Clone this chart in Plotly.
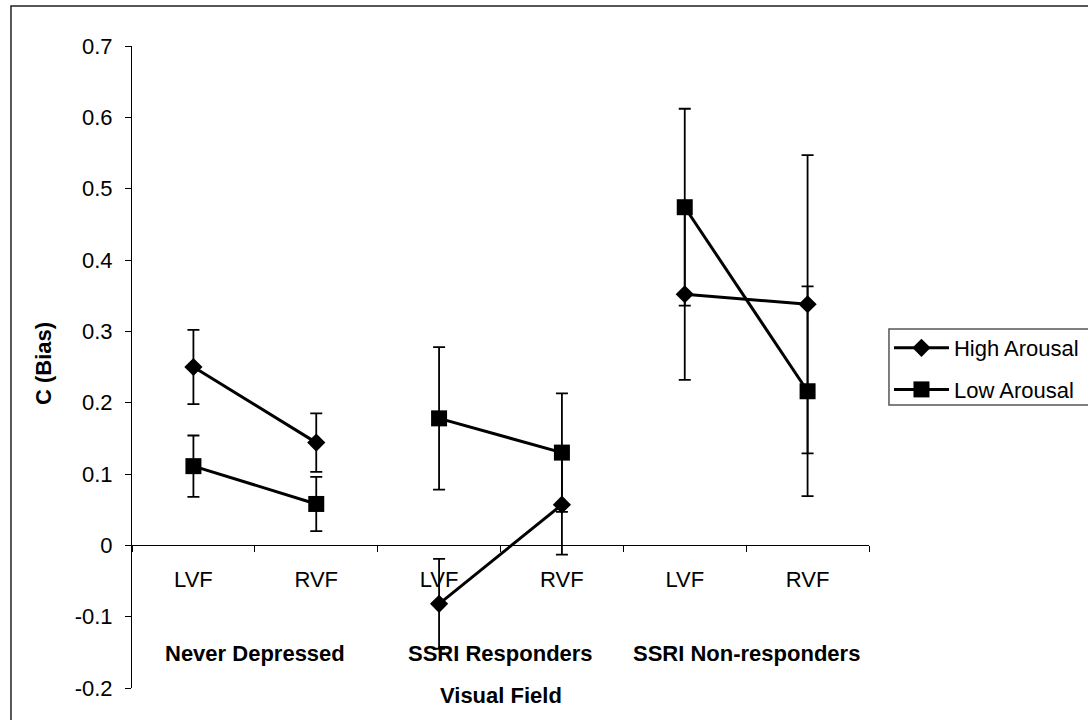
import plotly.graph_objects as go

# Signal-detection response bias (C) by patient group, visual field and arousal
groups = ["Never Depressed", "SSRI Responders", "SSRI Non-responders"]
fields = ["LVF", "RVF"]

high_arousal = [0.250, 0.144, -0.082, 0.057, 0.352, 0.338]
high_arousal_err = [0.052, 0.041, 0.063, 0.070, 0.120, 0.209]
low_arousal = [0.111, 0.058, 0.178, 0.130, 0.474, 0.216]
low_arousal_err = [0.043, 0.038, 0.100, 0.083, 0.138, 0.147]

y_ticks = [-0.2, -0.1, 0, 0.1, 0.2, 0.3, 0.4, 0.5, 0.6, 0.7]
y_ticklabels = ["-0.2", "-0.1", "0", "0.1", "0.2", "0.3", "0.4", "0.5", "0.6", "0.7"]

FONT = "Liberation Sans, Arial, sans-serif"
Y_MIN, Y_MAX = -0.2, 0.7

# one unique category per group/field cell, labelled only with the field
cells = [f"{g} {f}" for g in groups for f in fields]
cell_labels = [f for g in groups for f in fields]

series = [
    ("High Arousal", high_arousal, high_arousal_err, "diamond", 14),
    ("Low Arousal", low_arousal, low_arousal_err, "square", 16),
]

fig = go.Figure()
for name, vals, errs, symbol, msize in series:
    for gi in range(len(groups)):
        sl = slice(2 * gi, 2 * gi + 2)
        fig.add_trace(go.Scatter(
            x=cells[sl], y=vals[sl],
            mode="lines+markers",
            name=name, legendgroup=name, showlegend=(gi == 0),
            line=dict(color="black", width=3),
            marker=dict(symbol=symbol, size=msize, color="black"),
            error_y=dict(type="data", array=errs[sl], thickness=1.8,
                         width=6, color="black"),
        ))

fig.update_layout(
    width=1088, height=720,
    margin=dict(l=132, r=219, t=46, b=32, autoexpand=False),
    paper_bgcolor="white", plot_bgcolor="white",
    font=dict(family=FONT, size=22, color="black"),
    xaxis=dict(
        type="category", categoryorder="array", categoryarray=cells,
        tickvals=cells, ticktext=cell_labels,
        tickson="boundaries", ticks="outside", ticklen=6, tickcolor="black",
        showline=True, linecolor="black", linewidth=1,
        showgrid=False, zeroline=False,
        anchor="free", position=(0 - Y_MIN) / (Y_MAX - Y_MIN),
        ticklabelstandoff=14,
        range=[-0.5, 5.5],
    ),
    yaxis=dict(
        range=[Y_MIN, Y_MAX], tickvals=y_ticks, ticktext=y_ticklabels,
        ticks="outside", ticklen=6, tickcolor="black",
        showline=True, linecolor="black", linewidth=1,
        showgrid=False, zeroline=False,
        ticklabelstandoff=8,
    ),
    legend=dict(
        x=1.0271, y=0.5623, xanchor="left", yanchor="top",
        borderwidth=0, bgcolor="rgba(0,0,0,0)",
        font=dict(family=FONT, size=22, color="black"),
        itemwidth=55, tracegroupgap=10,
    ),
    showlegend=True,
)

# group names under the field labels
for gi, g in enumerate(groups):
    fig.add_annotation(x=2 * gi + 0.5, y=0.0545, xref="x", yref="paper",
                       text=f"<b>{g}</b>", showarrow=False,
                       xanchor="center", yanchor="middle",
                       font=dict(family=FONT, size=22))

fig.add_annotation(x=0.5, y=-0.011, xref="paper", yref="paper",
                   text="<b>Visual Field</b>", showarrow=False,
                   xanchor="center", yanchor="middle",
                   font=dict(family=FONT, size=22))
fig.add_annotation(x=-0.1194, y=0.5047, xref="paper", yref="paper",
                   text="<b>C (Bias)</b>", showarrow=False, textangle=-90,
                   xanchor="center", yanchor="middle",
                   font=dict(family=FONT, size=22))

# chart frame
fig.add_shape(type="rect", xref="paper", yref="paper",
              x0=-0.1642, y0=-0.07, x1=1.31, y1=1.0623,
              line=dict(color="#222222", width=1.5), layer="below")
# legend box, running past the right edge of the chart frame
fig.add_shape(type="rect", xref="paper", yref="paper",
              x0=1.0271, y0=0.4408, x1=1.31, y1=0.5592,
              line=dict(color="#555555", width=1.5), layer="below")

fig.write_html("out.html")
